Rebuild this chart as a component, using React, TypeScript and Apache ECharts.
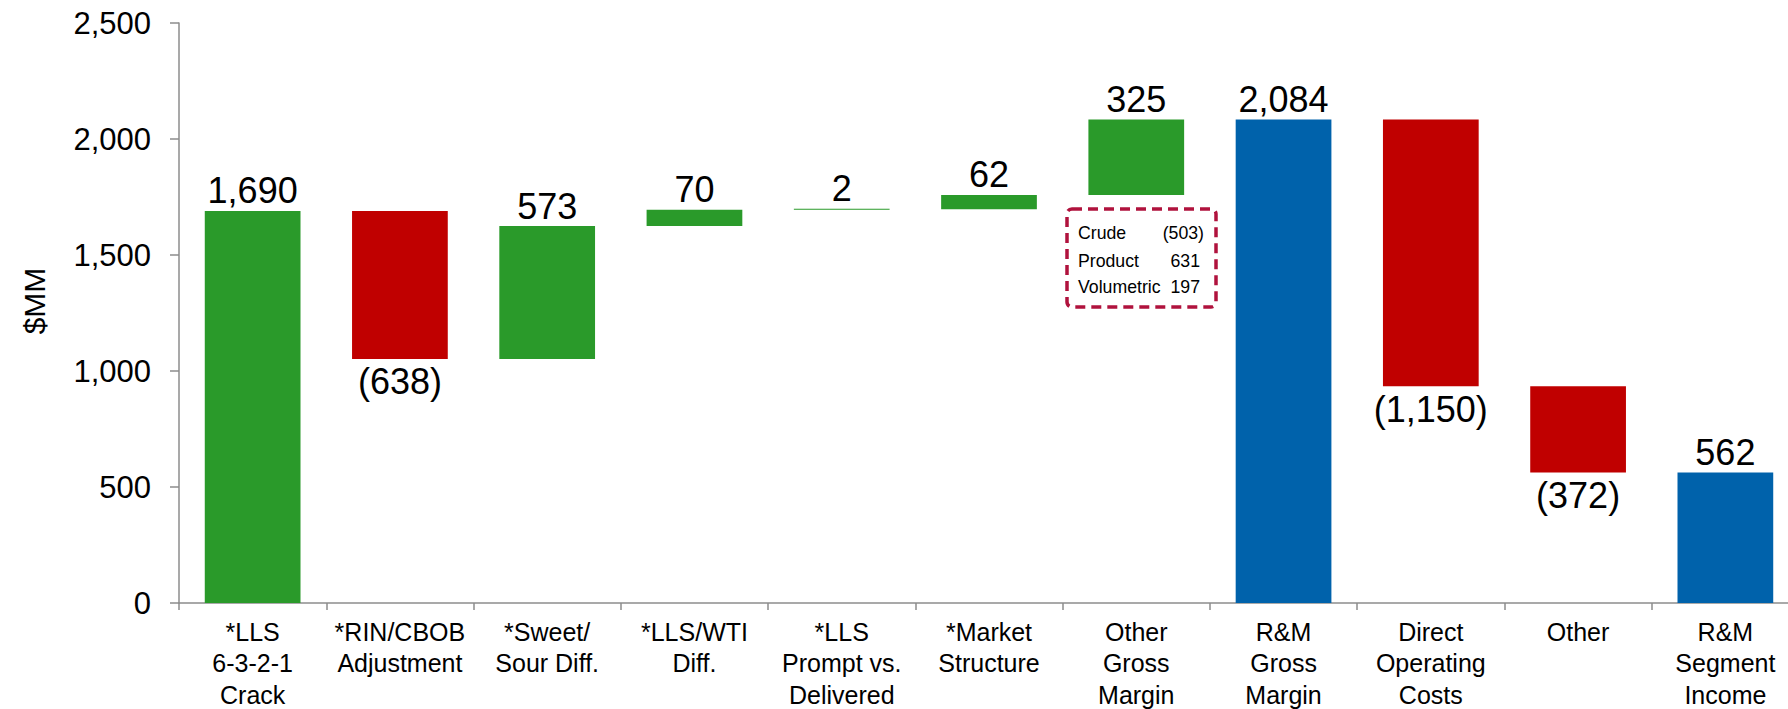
import React, { useEffect, useRef } from "react";
import * as echarts from "echarts";

const categories = [
  "*LLS\n6-3-2-1\nCrack",
  "*RIN/CBOB\nAdjustment",
  "*Sweet/\nSour Diff.",
  "*LLS/WTI\nDiff.",
  "*LLS\nPrompt vs.\nDelivered",
  "*Market\nStructure",
  "Other\nGross\nMargin",
  "R&M\nGross\nMargin",
  "Direct\nOperating\nCosts",
  "Other",
  "R&M\nSegment\nIncome",
];
const deltas = [1690, -638, 573, 70, 2, 62, 325, 2084, -1150, -372, 562];
const isTotal = [false, false, false, false, false, false, false, true, false, false, true];
const yTicks = [0, 500, 1000, 1500, 2000, 2500];

const detailLabels = ["Crude", "Product", "Volumetric"];
const detailValues = [-503, 631, 197];

const GREEN = "#2A9A2A";
const RED = "#C00000";
const BLUE = "#0062AB";
const FONT = "'Liberation Sans', Arial, sans-serif";

const fmt = (v: number) => {
  const s = Math.abs(v).toLocaleString("en-US");
  return v < 0 ? `(${s})` : s;
};

export default function App() {
  const ref = useRef<HTMLDivElement>(null);
  useEffect(() => {
    document.body.style.margin = "0";
    if (!ref.current) return;
    const chart = echarts.init(ref.current, null, { renderer: "svg" });

    let running = 0;
    const base: number[] = [];
    const heights: any[] = [];
    deltas.forEach((d, i) => {
      let b = 0;
      let h = 0;
      if (isTotal[i]) {
        b = 0;
        h = d;
        running = d;
      } else if (d >= 0) {
        b = running;
        h = d;
        running += d;
      } else {
        running += d;
        b = running;
        h = -d;
      }
      base.push(b);
      const color = isTotal[i] ? BLUE : d >= 0 ? GREEN : RED;
      heights.push({
        value: h,
        itemStyle: { color },
        label: {
          position: d >= 0 ? "top" : "bottom",
          distance: d >= 0 ? 2 : 5,
        },
      });
    });

    const boxX = 1067;
    const boxY = 209;
    const rowY = [233, 261, 287];
    const graphics: any[] = [
      {
        type: "rect",
        shape: { x: boxX, y: boxY, width: 149, height: 98, r: 5 },
        style: { fill: "#ffffff", stroke: "#B0123D", lineWidth: 3.5, lineDash: [10, 6] },
        z: 100,
      },
      {
        type: "text",
        x: 34,
        y: 301,
        rotation: Math.PI / 2,
        style: { text: "$MM", fontSize: 30, fontFamily: FONT, fill: "#000", textAlign: "center", textVerticalAlign: "middle" },
        z: 101,
      },
    ];
    detailLabels.forEach((lab, i) => {
      graphics.push({
        type: "text",
        x: 1078,
        y: rowY[i],
        style: { text: lab, fontSize: 17.7, fontFamily: FONT, fill: "#000", textAlign: "left", textVerticalAlign: "middle" },
        z: 101,
      });
      graphics.push({
        type: "text",
        x: detailValues[i] < 0 ? 1204 : 1200,
        y: rowY[i],
        style: { text: fmt(detailValues[i]), fontSize: 17.7, fontFamily: FONT, fill: "#000", textAlign: "right", textVerticalAlign: "middle" },
        z: 101,
      });
    });

    chart.setOption({
      animation: false,
      backgroundColor: "#ffffff",
      textStyle: { fontFamily: FONT },
      grid: { left: 179, right: 1, top: 23, bottom: 106, containLabel: false, outerBoundsMode: "none" },
      xAxis: {
        type: "category",
        data: categories,
        axisLine: { lineStyle: { color: "#8c8c8c", width: 1.5 } },
        axisTick: { show: true, length: 7, lineStyle: { color: "#8c8c8c", width: 1.5 } },
        axisLabel: {
          interval: 0,
          color: "#000",
          fontSize: 25,
          lineHeight: 31.5,
          margin: 13,
          fontFamily: FONT,
        },
      },
      yAxis: {
        type: "value",
        min: yTicks[0],
        max: yTicks[yTicks.length - 1],
        interval: yTicks[1] - yTicks[0],
        splitLine: { show: false },
        axisLine: { show: true, lineStyle: { color: "#8c8c8c", width: 1.5 } },
        axisTick: { show: true, length: 9, lineStyle: { color: "#8c8c8c", width: 1.5 } },
        axisLabel: {
          color: "#000",
          fontSize: 31,
          margin: 28,
          fontFamily: FONT,
          formatter: (v: number) => v.toLocaleString("en-US"),
        },
      },
      series: [
        {
          type: "bar",
          stack: "w",
          data: base,
          itemStyle: { color: "transparent" },
          emphasis: { disabled: true },
          silent: true,
          barCategoryGap: "35%",
        },
        {
          type: "bar",
          stack: "w",
          barMinHeight: 1,
          barCategoryGap: "35%",
          data: heights,
          label: {
            show: true,
            color: "#000",
            fontSize: 36,
            fontFamily: FONT,
            formatter: (p: any) => fmt(deltas[p.dataIndex]),
          },
        },
      ],
      graphic: graphics,
    });
    return () => chart.dispose();
  }, []);
  return (
    <div style={{ width: 1788, height: 709, overflow: "hidden", position: "relative" }}>
      <div ref={ref} style={{ width: 1800, height: 709 }} />
    </div>
  );
}
